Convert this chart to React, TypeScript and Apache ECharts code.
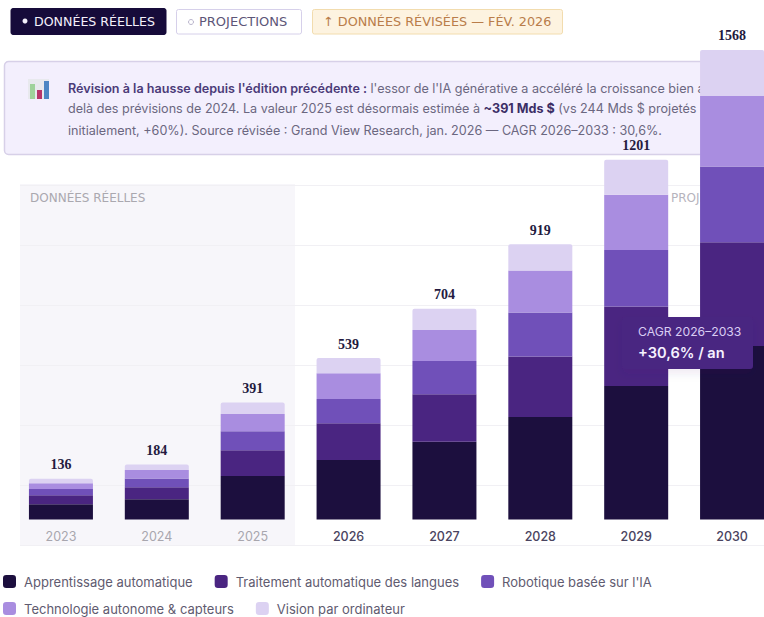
import React, { useEffect, useRef } from "react";
import * as echarts from "echarts";

const years = ["2023", "2024", "2025", "2026", "2027", "2028", "2029", "2030"];
const actualYears = ["2023", "2024", "2025"];
const totals = [136, 184, 391, 539, 704, 919, 1201, 1568];

const machineLearning = [51, 68, 145, 199, 260, 342, 446, 579];
const languageProcessing = [30, 40, 86, 122, 158, 202, 265, 347];
const robotics = [21, 29, 64, 81, 111, 147, 189, 253];
const autonomous = [19, 28, 57, 86, 104, 140, 184, 235];
const vision = [15, 19, 39, 51, 71, 88, 117, 154];

const seriesNames = [
  "Apprentissage automatique",
  "Traitement automatique des langues",
  "Robotique basée sur l'IA",
  "Technologie autonome & capteurs",
  "Vision par ordinateur",
];
const seriesColors = ["#1c0f3e", "#4a2581", "#7050b9", "#a98de0", "#dcd2f2"];
const seriesValues = [machineLearning, languageProcessing, robotics, autonomous, vision];

const noteLines = [
  "{strong|Révision à la hausse depuis l'édition précédente :} l'essor de l'IA générative a accéléré la croissance bien au-",
  "delà des prévisions de 2024. La valeur 2025 est désormais estimée à {dark|~391 Mds $} (vs 244 Mds $ projetés",
  "initialement, +60%). Source révisée : Grand View Research, jan. 2026 — CAGR 2026–2033 : 30,6%.",
];

const SANS = "Inter, 'Noto Sans', sans-serif";
const WIDE = "'DejaVu Sans', sans-serif";
const NOTE_SIZE = 12.6;

function chip(x: number, y: number, w: number, h: number, fill: string, stroke: string, label: string, color: string, textX: number, size: number) {
  return [
    { type: "rect", z: 1, shape: { x, y, width: w, height: h, r: 2 }, style: { fill, stroke, lineWidth: 1 } },
    {
      type: "text", z: 2, x: textX, y: y + h / 2,
      style: { text: label, fill: color, font: `500 ${size}px ${WIDE}`, textVerticalAlign: "middle" },
    },
  ];
}

function buildOption() {
  const graphicElements: any[] = [
    // shaded panel behind the observed years
    { type: "rect", z: -1, shape: { x: 20, y: 184, width: 275, height: 361 }, style: { fill: "#f7f6fa" } },
    {
      type: "line", z: 1, shape: { x1: 299.5, y1: 365, x2: 299.5, y2: 546 },
      style: {
        lineWidth: 1,
        stroke: new echarts.graphic.LinearGradient(0, 0, 0, 1, [
          { offset: 0, color: "rgba(205,198,228,0)" },
          { offset: 0.2, color: "#d5cfe8" },
          { offset: 1, color: "#e6e2f1" },
        ]),
      },
    },
    { type: "text", z: 1, x: 30, y: 198, style: { text: "DONNÉES RÉELLES", fill: "#aaa8af", font: `500 12px ${WIDE}`, textVerticalAlign: "middle" } },
    { type: "text", z: 1, x: 671, y: 198, style: { text: "PROJECTIONS", fill: "#b6b4bd", font: `500 12px ${WIDE}`, textVerticalAlign: "middle" } },

    ...chip(11, 8.5, 155, 26, "#160b3a", "#160b3a", "DONNÉES RÉELLES", "#f4f1fb", 34, 12.6),
    { type: "circle", z: 3, shape: { cx: 25, cy: 21, r: 2.5 }, style: { fill: "#f4f1fb" } },
    ...chip(176.5, 9.5, 125, 24.5, "#ffffff", "#d6d0ea", "PROJECTIONS", "#5d5678", 199, 13),
    { type: "circle", z: 3, shape: { cx: 191, cy: 22, r: 2.5 }, style: { fill: "none", stroke: "#b9b4cc", lineWidth: 1 } },
    ...chip(312.5, 9.5, 250, 24.5, "#fdf3e0", "#f2dcae", "↑ DONNÉES RÉVISÉES — FÉV. 2026", "#b97d4a", 323, 12.8),

    // revision note
    { type: "rect", z: 1, shape: { x: 4.5, y: 61.5, width: 760, height: 93, r: 4 }, style: { fill: "#f3effd", stroke: "#d7d0e8", lineWidth: 1.5 } },
    { type: "rect", z: 2, shape: { x: 28, y: 79, width: 21, height: 20 }, style: { fill: "#e8e9ee" } },
    { type: "rect", z: 3, shape: { x: 30, y: 84, width: 5, height: 15 }, style: { fill: "#9fd29b" } },
    { type: "rect", z: 3, shape: { x: 37, y: 90, width: 5, height: 9 }, style: { fill: "#b8356a" } },
    { type: "rect", z: 3, shape: { x: 44, y: 81, width: 5, height: 18 }, style: { fill: "#4d86c4" } },
    ...noteLines.map((line, i) => ({
      type: "text", z: 2, x: 68, y: [88, 108, 130][i],
      style: {
        text: line,
        fill: "#6b6780",
        font: `400 ${NOTE_SIZE}px ${SANS}`,
        textVerticalAlign: "middle",
        rich: {
          strong: { fontFamily: "Inter", fontSize: NOTE_SIZE, fontWeight: 600, fill: "#4b3b78" },
          dark: { fontFamily: "Inter", fontSize: NOTE_SIZE, fontWeight: 700, fill: "#3c2e66" },
        },
      },
    })),

    // growth-rate callout, drawn over the bars
    {
      type: "rect", z: 20, shape: { x: 622, y: 317, width: 131, height: 52, r: 3 },
      style: { fill: "#4a2581", shadowBlur: 8, shadowColor: "rgba(60,30,110,0.08)", shadowOffsetY: 5 },
    },
    { type: "text", z: 21, x: 638, y: 331, style: { text: "CAGR 2026–2033", fill: "#d9cdf3", font: `400 12.2px ${SANS}`, textVerticalAlign: "middle" } },
    { type: "text", z: 21, x: 638, y: 353, style: { text: "+30,6% / an", fill: "#f6f2ff", font: `600 14.6px ${SANS}`, textVerticalAlign: "middle" } },
  ];

  return {
    animation: false,
    backgroundColor: "#ffffff",
    textStyle: { fontFamily: SANS },
    grid: [
      { left: 13, width: 767, top: 40.3, height: 479.2, outerBoundsMode: "none" },
      { left: 20, width: 744, top: 185, height: 360, outerBoundsMode: "none" },
    ],
    xAxis: [
      {
        type: "category",
        gridIndex: 0,
        data: years.map((y) => ({
          value: y,
          textStyle: actualYears.includes(y)
            ? { color: "#a8a6ae", fontWeight: 400 }
            : { color: "#4a4460", fontWeight: 500 },
        })),
        axisLine: { show: false },
        axisTick: { show: false },
        axisLabel: { margin: 10, fontSize: 12.5, fontFamily: SANS },
      },
      { type: "value", gridIndex: 1, show: false, min: 0, max: 1 },
    ],
    yAxis: [
      { type: "value", gridIndex: 0, min: 0, max: 1600, show: false },
      {
        // ruled background lines, independent of the value scale
        type: "value", gridIndex: 1, min: 0, max: 6, interval: 1,
        axisLine: { show: false },
        axisTick: { show: false },
        axisLabel: { show: false },
        splitLine: { show: true, lineStyle: { color: "#f1f0f4", width: 1 } },
      },
    ],
    legend: [
      {
        left: 3, top: 575, padding: 0, itemWidth: 13, itemHeight: 13, itemGap: 22, icon: "roundRect",
        data: seriesNames.slice(0, 3),
        textStyle: { color: "#5f5b70", fontSize: 13, fontFamily: SANS, padding: [0, 0, 0, 3] },
      },
      {
        left: 3, top: 602, padding: 0, itemWidth: 13, itemHeight: 13, itemGap: 22, icon: "roundRect",
        data: seriesNames.slice(3),
        textStyle: { color: "#5f5b70", fontSize: 13, fontFamily: SANS, padding: [0, 0, 0, 3] },
      },
    ],
    series: seriesNames.map((name, i) => ({
      name,
      type: "bar",
      stack: "total",
      xAxisIndex: 0,
      yAxisIndex: 0,
      barWidth: 64,
      data: seriesValues[i],
      itemStyle: { color: seriesColors[i], borderRadius: i === 4 ? [2, 2, 0, 0] : 0 },
      label:
        i === 4
          ? {
              show: true,
              position: "top",
              distance: 7,
              formatter: (p: any) => String(totals[p.dataIndex]),
              color: "#241a3f",
              fontFamily: "'Liberation Serif', serif",
              fontWeight: 700,
              fontSize: 14,
            }
          : { show: false },
    })),
    graphic: { elements: graphicElements },
  };
}

export default function App() {
  const ref = useRef<HTMLDivElement>(null);
  useEffect(() => {
    if (!ref.current) return;
    const chart = echarts.init(ref.current, undefined, { renderer: "svg" });
    chart.setOption(buildOption());
    return () => chart.dispose();
  }, []);
  return <div ref={ref} style={{ position: "absolute", left: 0, top: 0, width: 764, height: 617 }} />;
}
